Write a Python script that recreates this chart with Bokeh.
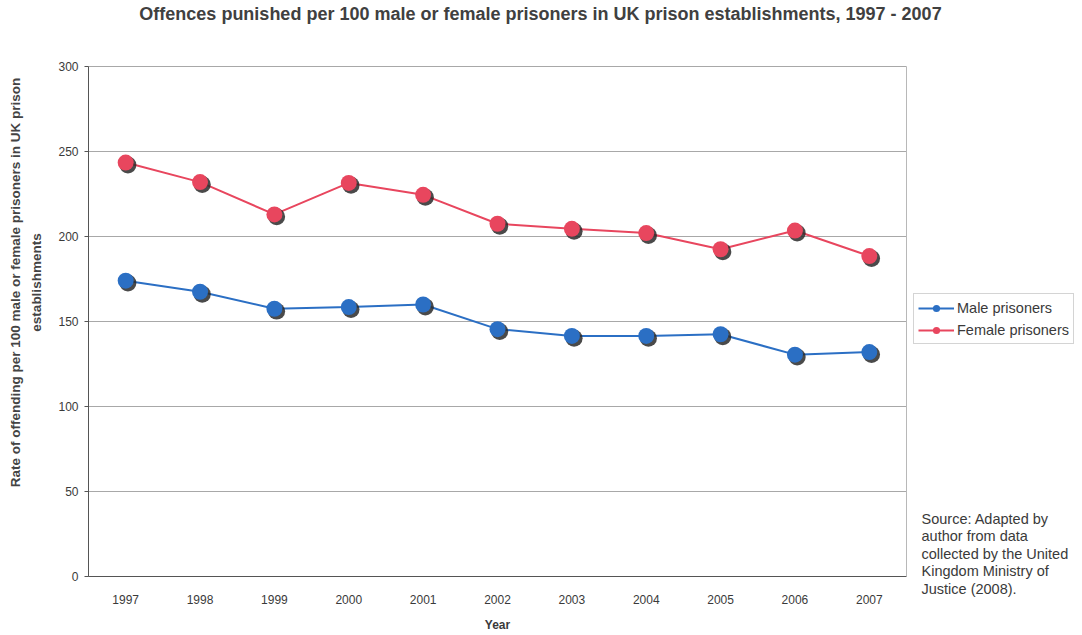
from bokeh.plotting import figure
from bokeh.models import (Range1d, Legend, LegendItem, Label, FixedTicker, ColumnDataSource,
                          LinearAxis, Grid)
from bokeh.transform import dodge
from bokeh.embed import file_html
from bokeh.resources import INLINE

years = [1997, 1998, 1999, 2000, 2001, 2002, 2003, 2004, 2005, 2006, 2007]
male = [174, 167.5, 157.5, 158.5, 160, 145.5, 141.5, 141.5, 142.5, 130.5, 132]
female = [243.5, 232, 213, 231.5, 224.5, 207.5, 204.5, 202, 192.5, 203.5, 188.5]
y_ticks = [0, 50, 100, 150, 200, 250, 300]

title_text = "Offences punished per 100 male or female prisoners in UK prison establishments, 1997 - 2007"
ylab1 = "Rate of offending per 100 male or female prisoners in UK prison"
ylab2 = "establishments"
source_lines = ["Source: Adapted by", "author from data", "collected by the United",
                "Kingdom Ministry of", "Justice (2008)."]

FONT = "Liberation Sans"
TXT = "#3a3a3a"
BLUE = "#2b6fc4"
RED = "#e8465e"
W, H = 1082, 635
# plot area in canvas pixels: x 88..906, y 66..576 (top-down)
PX_PER_YEAR = 818 / 11.0
PX_PER_UNIT = 510 / 300.0
x0 = 1996.5 - 88 / PX_PER_YEAR
x1 = 1996.5 + (W - 88) / PX_PER_YEAR
y0 = -(H - 576) / PX_PER_UNIT
y1 = 576 / PX_PER_UNIT

src = ColumnDataSource(dict(x=years, male=male, female=female))

p = figure(width=W, height=H, output_backend="svg", toolbar_location=None,
           x_range=Range1d(x0, x1), y_range=Range1d(y0, y1),
           x_axis_location=None, y_axis_location=None, min_border=0)
p.title.visible = False
p.outline_line_color = None
p.background_fill_color = "white"
p.border_fill_color = "white"
for g in p.xgrid + p.ygrid:
    g.visible = False

# y grid restricted to the plot area
grid_kw = dict(dimension=1, ticker=FixedTicker(ticks=y_ticks), bounds=(0, 300),
               grid_line_color="#a8a8a8", grid_line_width=1)
if "cross_bounds" in Grid.properties():
    p.add_layout(Grid(cross_bounds=(1996.5, 2007.5), **grid_kw), "center")
else:
    p.segment(x0=[1996.5] * len(y_ticks), x1=[2007.5] * len(y_ticks), y0=y_ticks, y1=y_ticks,
              line_color="#a8a8a8", line_width=1)

# axes at fixed data locations
yaxis = LinearAxis(fixed_location=1996.5, bounds=(0, 300), ticker=FixedTicker(ticks=y_ticks),
                   axis_line_color="#555555", major_tick_line_color="#555555",
                   minor_tick_line_color=None, major_tick_in=0, major_tick_out=4,
                   major_label_standoff=6, major_label_text_font=FONT,
                   major_label_text_font_size="12px", major_label_text_color=TXT)
p.add_layout(yaxis, "left")
xaxis = LinearAxis(fixed_location=0, bounds=(1996.5, 2007.5), ticker=FixedTicker(ticks=years),
                   axis_line_color="#555555", major_tick_line_color=None,
                   minor_tick_line_color=None, major_tick_in=0, major_tick_out=0,
                   major_label_standoff=18, major_label_text_font=FONT,
                   major_label_text_font_size="12px", major_label_text_color=TXT,
                   axis_label="Year", axis_label_text_font=FONT,
                   axis_label_text_font_size="12px", axis_label_text_font_style="bold",
                   axis_label_text_color=TXT, axis_label_standoff=11)
p.add_layout(xaxis, "below")
rborder = LinearAxis(fixed_location=2007.5, bounds=(0, 300), ticker=FixedTicker(ticks=[]),
                     axis_line_color="#b8b8b8", major_tick_line_color=None,
                     minor_tick_line_color=None, major_label_text_font_size="0px")
p.add_layout(rborder, "right")

# lines and markers with shadow
p.line("x", "male", source=src, line_color=BLUE, line_width=2)
p.line("x", "female", source=src, line_color=RED, line_width=2)
p.scatter(dodge("x", 0.03, range=p.x_range), dodge("male", -1.4, range=p.y_range), source=src,
          size=17, fill_color="#2a2a2a", line_color=None, fill_alpha=0.85)
p.scatter(dodge("x", 0.03, range=p.x_range), dodge("female", -1.4, range=p.y_range), source=src,
          size=17, fill_color="#2a2a2a", line_color=None, fill_alpha=0.85)
p.scatter("x", "male", source=src, size=16, fill_color=BLUE, line_color=None)
p.scatter("x", "female", source=src, size=16, fill_color=RED, line_color=None)

# legend swatches (off-screen data) and legend box
lm = p.line([1997], [-1000], line_color=BLUE, line_width=2)
lms = p.scatter([1997], [-1000], size=10, fill_color=BLUE, line_color=None)
lf = p.line([1997], [-1000], line_color=RED, line_width=2)
lfs = p.scatter([1997], [-1000], size=10, fill_color=RED, line_color=None)
legend = Legend(items=[LegendItem(label="Male prisoners", renderers=[lm, lms]),
                       LegendItem(label="Female prisoners", renderers=[lf, lfs])],
                location=(913, H - 344), padding=4, spacing=3, margin=0,
                label_text_font=FONT, label_text_font_size="14.5px", label_text_color=TXT,
                glyph_width=36, glyph_height=18, label_height=19, label_standoff=3,
                border_line_color="#aaaaaa", border_line_width=1, background_fill_alpha=1)
p.add_layout(legend, "center")

# texts in canvas pixels (origin bottom-left)
def lab(x, y, text, **kw):
    opts = dict(x=x, y=H - y, x_units="screen", y_units="screen", text=text,
                text_font=FONT, text_baseline="middle", text_color=TXT)
    opts.update(kw)
    p.add_layout(Label(**opts))

lab(540, 13, title_text, text_align="center", text_font_size="18px",
    text_font_style="bold", text_color="#404040")
lab(15, 282, ylab1, angle=90, angle_units="deg", text_align="center",
    text_font_size="13.5px", text_font_style="bold", text_color="#444444")
lab(36, 282, ylab2, angle=90, angle_units="deg", text_align="center",
    text_font_size="13.5px", text_font_style="bold", text_color="#444444")
for i, line in enumerate(source_lines):
    lab(921, 518 + i * 17.5, line, text_align="left", text_font_size="14.5px")

open("out.html", "w").write(file_html(p, INLINE))
